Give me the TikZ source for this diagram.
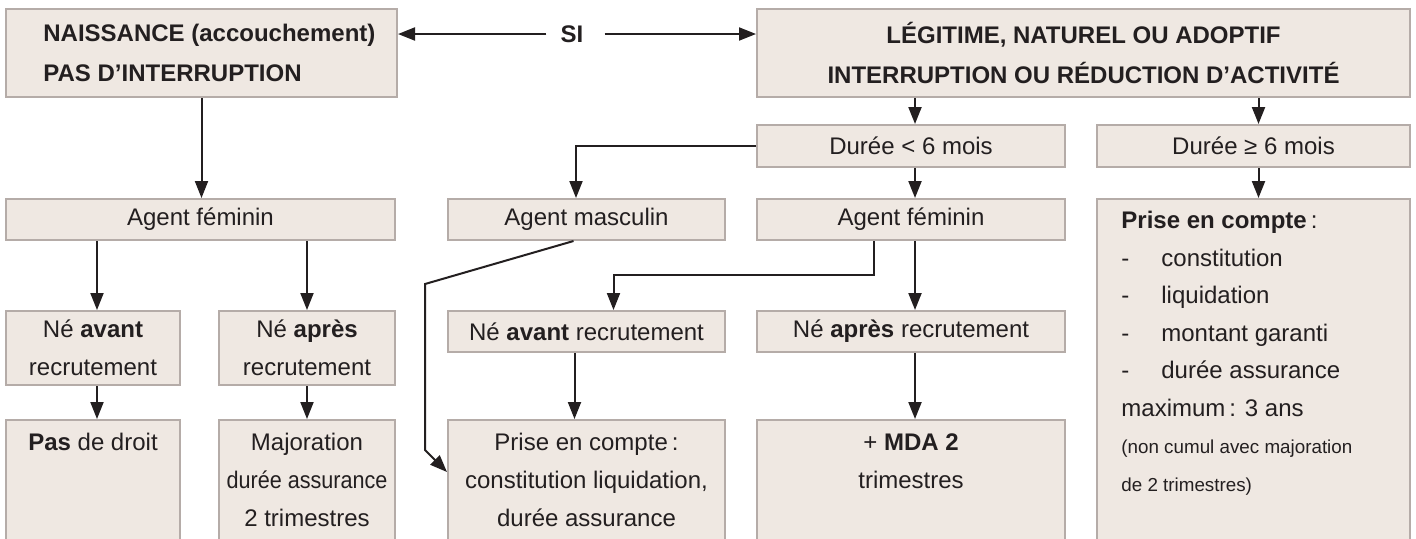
\documentclass[tikz,border=0pt]{standalone}
\usepackage{fontspec}
\setmainfont{Liberation Sans}
\usetikzlibrary{arrows.meta,positioning}
\definecolor{fond}{HTML}{EFE8E2}
\definecolor{bord}{HTML}{B5ACA8}
\definecolor{encre}{HTML}{231F20}

\begin{document}
\begin{tikzpicture}[x=0.5pt,y=-0.5pt,
  cadre/.style={draw=bord,line width=1pt,fill=fond,inner sep=0pt,text=encre,font=\fontsize{12}{19}\selectfont},
  texte/.style={inner sep=0pt,text=encre,align=center,font=\fontsize{12}{19}\selectfont},
  fleche/.style={draw=encre,line width=1pt,-{Triangle[length=8.5pt,width=6.5pt]}}]
\useasboundingbox (0,0) rectangle (1416,538);
\clip (0,0) rectangle (1416,538);
\fill[white] (0,0) rectangle (1416,538);

% titres
\node[cadre,minimum width=195.5pt,minimum height=44pt] (naiss) at (201.5,53) {};
\node[texte,align=left,right=19pt of naiss.west,font=\fontsize{12}{20}\selectfont\bfseries] (naisst) {NAISSANCE (accouchement)\\PAS D’INTERRUPTION};
\node[cadre,minimum width=326.5pt,minimum height=44pt,align=center,font=\fontsize{12}{20}\selectfont\bfseries] (legit) at (1083.5,53) {LÉGITIME, NATUREL OU ADOPTIF\\INTERRUPTION OU RÉDUCTION D’ACTIVITÉ};
\node[text=encre,inner xsep=7pt,font=\fontsize{12}{14}\selectfont\bfseries] (si) at (572,34) {SI};
\draw[fleche] (si.west) -- (naiss.east |- si.west);
\draw[fleche] ([xshift=3.5pt]si.east) -- (legit.west |- si.east);

% duree
\node[cadre,minimum width=154pt,minimum height=21pt] (dlt) at (911,146) {Durée < 6 mois};
\node[cadre,minimum width=156.5pt,minimum height=21pt] (dge) at (1253.5,146) {Durée ≥ 6 mois};
\draw[fleche] ([xshift=2pt]dlt.north |- legit.south) -- ([xshift=2pt]dlt.north);
\draw[fleche] ([xshift=2.5pt]dge.north |- legit.south) -- ([xshift=2.5pt]dge.north);

% agents
\node[cadre,minimum width=194.5pt,minimum height=20.5pt] (fem1) at (200.5,219.5) {Agent féminin};
\node[cadre,minimum width=138.5pt,minimum height=20.5pt] (masc) at (586.5,219.5) {Agent masculin};
\node[cadre,minimum width=154pt,minimum height=20.5pt] (fem2) at (911,219.5) {Agent féminin};
\node[cadre,minimum width=156.5pt,minimum height=180.5pt] (prise2) at (1253.5,379.5) {};
\node[texte,align=left,anchor=north west,font=\fontsize{12}{18.75}\selectfont] (prise2t) at (1121,211) {\textbf{Prise en compte}\,:\\
  \makebox[20pt][l]{-}constitution\\
  \makebox[20pt][l]{-}liquidation\\
  \makebox[20pt][l]{-}montant garanti\\
  \makebox[20pt][l]{-}durée assurance\\
  maximum\,: 3 ans\\
  {\fontsize{9.4}{18.75}\selectfont (non cumul avec majoration}\\
  {\fontsize{9.4}{18.75}\selectfont de 2 trimestres)}};
\draw[fleche] (naiss.south) -- (naiss.south |- fem1.north);
\draw[fleche] ([xshift=2pt]dlt.south) -- ([xshift=2pt]fem2.north);
\draw[fleche] ([xshift=2.5pt]dge.south) -- ([xshift=2.5pt]dge.south |- prise2.north);
\draw[fleche] (dlt.west) -| ([xshift=-5.25pt]masc.north);

% recrutement
\node[cadre,minimum width=87pt,minimum height=37pt,align=center] (avant1) at (93,348) {Né \textbf{avant}\\recrutement};
\node[cadre,minimum width=88pt,minimum height=37pt,align=center] (apres1) at (307,348) {Né \textbf{après}\\recrutement};
\node[cadre,minimum width=138.5pt,minimum height=20.5pt] (avant2) at (586.5,331.5) {Né \textbf{avant} recrutement};
\node[cadre,minimum width=154pt,minimum height=20.5pt] (apres2) at (911,331.5) {Né \textbf{après} recrutement};
\draw[fleche] ([xshift=2pt]avant1.north |- fem1.south) -- ([xshift=2pt]avant1.north);
\draw[fleche] (apres1.north |- fem1.south) -- (apres1.north);
\draw[fleche] ([xshift=2pt]fem2.south) -- ([xshift=2pt]apres2.north);
\draw[fleche] ([xshift=-18.5pt]fem2.south) -- ++(0,34) -| ([xshift=13.5pt]avant2.north);

% droits
\node[cadre,minimum width=87pt,minimum height=70pt] (nodroit) at (93,490) {};
\node[cadre,minimum width=88pt,minimum height=70pt] (major) at (307,490) {};
\node[cadre,minimum width=138.5pt,minimum height=70pt] (prise1) at (586.5,490) {};
\node[cadre,minimum width=154pt,minimum height=70pt] (mda) at (911,490) {};
\node[texte,below=7pt of nodroit.north] (nodroitt) {\textbf{Pas} de droit};
\node[texte,below=7pt of major.north] (majort) {Majoration\\\scalebox{0.9}[1]{durée assurance}\\2 trimestres};
\node[texte,below=7pt of prise1.north] (prise1t) {Prise en compte\,:\\constitution liquidation,\\durée assurance};
\node[texte,below=7pt of mda.north] (mdat) {+ \textbf{MDA 2}\\trimestres};
\draw[fleche] ([xshift=2pt]avant1.south) -- ([xshift=2pt]nodroit.north);
\draw[fleche] (apres1.south) -- (major.north);
\draw[fleche] ([xshift=-6pt]avant2.south) -- ([xshift=-6pt]prise1.north);
\draw[fleche] ([xshift=2pt]apres2.south) -- ([xshift=2pt]mda.north);
\draw[fleche] ([xshift=-6.5pt]masc.south) -- (425,284) -- (425,450) -- ([yshift=9pt]prise1.west);
\end{tikzpicture}
\end{document}
